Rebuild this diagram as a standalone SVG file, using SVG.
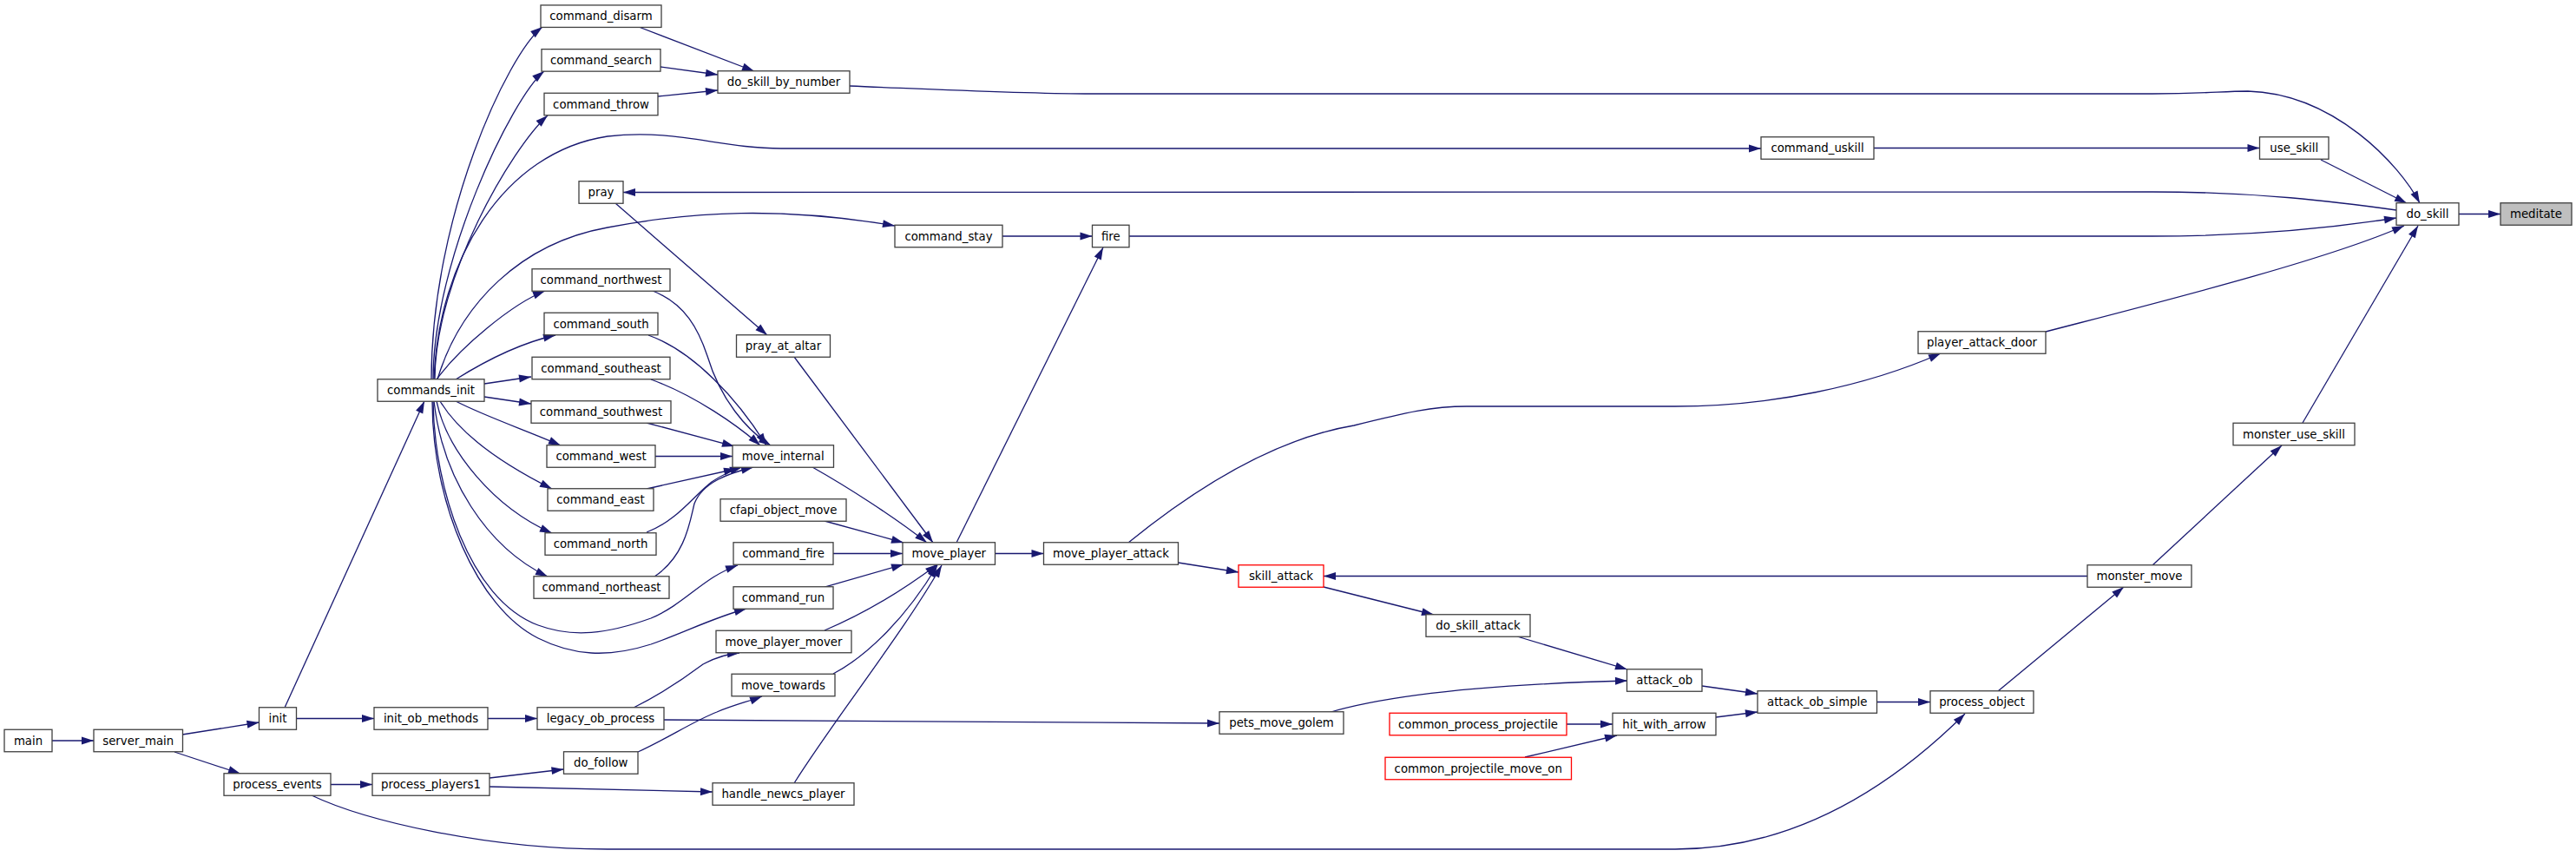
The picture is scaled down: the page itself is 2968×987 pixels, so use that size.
<svg xmlns="http://www.w3.org/2000/svg" width="2968" height="987" viewBox="0 0 2968 987">
<style>
.n rect{fill:#fff;stroke:#404040;stroke-width:1.3}
.n.r rect{stroke:#ff0000}
.n.g rect{fill:#bfbfbf}
.n text{font-family:"DejaVu Sans","Liberation Sans",sans-serif;font-size:13.3px;text-anchor:middle;fill:#000}
.e path{fill:none;stroke:#191970;stroke-width:1.3;marker-end:url(#ah)}
</style>
<defs>
<marker id="ah" markerUnits="userSpaceOnUse" markerWidth="15" markerHeight="10" refX="14" refY="5" orient="auto" viewBox="0 0 14 10">
<path d="M0,0.5 L14,5 L0,9.5 Z" fill="#191970"/>
</marker>
</defs>
<rect width="2968" height="987" fill="#fff"/>
<g id="edges" class="e">
<path d="M2833,246.5 L2881,246.5"/>
<path d="M979,99 C1100,104 1180,108 1250,108 L2480,108 C2540,108 2560,105 2590,105 C2690,108 2765,190 2788,234"/>
<path d="M2159,170.5 L2603.5,170.5"/>
<path d="M500,437 C505,300 580,175 700,157 C780,148 830,171 900,171 L2029,171"/>
<path d="M2674,184 L2773,234"/>
<path d="M2761,242 C2690,232 2600,221 2480,221 L718,221.5"/>
<path d="M1301,272 L2480,272 C2600,272 2690,262 2761,251"/>
<path d="M1155,272 L1258.5,272"/>
<path d="M504,437 C530,350 600,280 700,262 C800,243 900,238 1031,260"/>
<path d="M1102,625 L1271,285"/>
<path d="M2357,382 C2480,350 2680,300 2770,260"/>
<path d="M1300,625 C1380,560 1470,505 1560,490 C1620,475 1650,468 1690,468 L1930,468 C2040,468 2150,445 2236,407"/>
<path d="M2653,487 L2786,260"/>
<path d="M2480,651 L2629,513"/>
<path d="M2405,663.5 L1525,663.5"/>
<path d="M2302,796 L2447,676"/>
<path d="M1146.5,637.5 L1202.5,637.5"/>
<path d="M1357.5,648 L1427,659"/>
<path d="M1525,676 L1652,708"/>
<path d="M1748,733 L1875,771"/>
<path d="M1961,790 L2025,799"/>
<path d="M1977,826 L2025,820"/>
<path d="M2162.5,808.5 L2224,808.5"/>
<path d="M1805,834 L1858,834"/>
<path d="M1757,872 L1863,847"/>
<path d="M1530,821 C1600,800 1720,788 1875,784"/>
<path d="M765,829 L1405,833"/>
<path d="M359,916 C420,945 560,978 700,978 L1930,978 C2050,978 2160,925 2264,822"/>
<path d="M60,853 L108,853"/>
<path d="M210,846 L298.5,832"/>
<path d="M201,866 L277,891"/>
<path d="M341.5,827.5 L431,827.5"/>
<path d="M562,827.5 L619,827.5"/>
<path d="M328,815 L489,462"/>
<path d="M381,903.5 L429,903.5"/>
<path d="M564,896 L649.5,886"/>
<path d="M564,906 L821,912"/>
<path d="M735,866 C770,850 800,830 826,820 C845,812 862,808 878,802"/>
<path d="M730,815 C760,800 790,780 810,765 C825,757 838,753 852,752"/>
<path d="M497,437 C497,250 585,62 625,31"/>
<path d="M499,437 C499,300 590,112 627,82"/>
<path d="M501,437 C501,320 590,170 631,133"/>
<path d="M503,437 C530,400 590,350 628,335"/>
<path d="M525,437 C560,415 600,395 640,386"/>
<path d="M558,442 L612,434"/>
<path d="M558,457 L612,465"/>
<path d="M525,462 C560,480 610,497 646,513"/>
<path d="M507,462 C530,500 580,535 636,563"/>
<path d="M503,462 C515,520 570,585 636,614"/>
<path d="M500,462 C510,550 560,630 631,664"/>
<path d="M499,462 C500,560 540,690 620,720 C660,735 700,730 750,712 C790,695 810,665 850,651"/>
<path d="M498,462 C498,580 550,700 620,735 C660,755 700,758 750,742 C790,728 820,712 860,701"/>
<path d="M736,31 L869,82"/>
<path d="M761,77 L827,86"/>
<path d="M758,111 L827,104"/>
<path d="M709,234 L884,386"/>
<path d="M915,411 L1075,625"/>
<path d="M752,335 C790,350 805,380 815,410 C830,460 860,495 888,513"/>
<path d="M747,386 C800,405 850,460 883,513"/>
<path d="M750,437 C800,455 850,490 876,513"/>
<path d="M745,487 L846,514"/>
<path d="M755,525.5 L844,525.5"/>
<path d="M745,563 L848,540"/>
<path d="M745,613 C780,600 800,570 820,555 C835,545 845,541 855,538"/>
<path d="M754,664 C790,640 795,600 800,580 C810,555 840,545 868,538"/>
<path d="M936,538 C975,560 1030,595 1068,625"/>
<path d="M950,600 L1041,625"/>
<path d="M960,637.5 L1040,637.5"/>
<path d="M950,676 L1041,650"/>
<path d="M950,726 C1000,705 1040,680 1080,650"/>
<path d="M960,776 C1000,755 1045,710 1080,651"/>
<path d="M915,902 C960,830 1040,730 1085,651"/>
</g>
<g id="meditate" class="n g"><rect x="2881" y="233.75" width="82" height="25.5"/><text x="2922" y="251">meditate</text></g>
<g id="do_skill" class="n"><rect x="2761" y="233.75" width="72" height="25.5"/><text x="2797" y="251">do_skill</text></g>
<g id="do_skill_by_number" class="n"><rect x="827" y="81.75" width="152" height="25.5"/><text x="903" y="99">do_skill_by_number</text></g>
<g id="command_disarm" class="n"><rect x="623" y="5.95" width="139" height="25.5"/><text x="692.5" y="23.2">command_disarm</text></g>
<g id="command_search" class="n"><rect x="624" y="56.65" width="137" height="25.5"/><text x="692.5" y="73.9">command_search</text></g>
<g id="command_throw" class="n"><rect x="627" y="107.25" width="131" height="25.5"/><text x="692.5" y="124.5">command_throw</text></g>
<g id="commands_init" class="n"><rect x="435" y="436.75" width="123" height="25.5"/><text x="496.5" y="454">commands_init</text></g>
<g id="command_uskill" class="n"><rect x="2029" y="157.75" width="130" height="25.5"/><text x="2094" y="175">command_uskill</text></g>
<g id="use_skill" class="n"><rect x="2603.5" y="157.75" width="79.5" height="25.5"/><text x="2643.25" y="175">use_skill</text></g>
<g id="pray" class="n"><rect x="667" y="208.75" width="51" height="25.5"/><text x="692.5" y="226">pray</text></g>
<g id="pray_at_altar" class="n"><rect x="848.5" y="385.75" width="108" height="25.5"/><text x="902.5" y="403">pray_at_altar</text></g>
<g id="command_stay" class="n"><rect x="1031" y="259.25" width="124" height="25.5"/><text x="1093" y="276.5">command_stay</text></g>
<g id="fire" class="n"><rect x="1258.5" y="259.25" width="42.5" height="25.5"/><text x="1279.75" y="276.5">fire</text></g>
<g id="command_northwest" class="n"><rect x="613" y="309.75" width="159" height="25.5"/><text x="692.5" y="327">command_northwest</text></g>
<g id="command_south" class="n"><rect x="627" y="360.25" width="131" height="25.5"/><text x="692.5" y="377.5">command_south</text></g>
<g id="command_southeast" class="n"><rect x="613" y="411.25" width="159" height="25.5"/><text x="692.5" y="428.5">command_southeast</text></g>
<g id="command_southwest" class="n"><rect x="612" y="461.75" width="161" height="25.5"/><text x="692.5" y="479">command_southwest</text></g>
<g id="command_west" class="n"><rect x="630" y="512.75" width="125" height="25.5"/><text x="692.5" y="530">command_west</text></g>
<g id="command_east" class="n"><rect x="631" y="562.75" width="122" height="25.5"/><text x="692" y="580">command_east</text></g>
<g id="command_north" class="n"><rect x="628" y="613.75" width="128" height="25.5"/><text x="692" y="631">command_north</text></g>
<g id="command_northeast" class="n"><rect x="615" y="663.75" width="156" height="25.5"/><text x="693" y="681">command_northeast</text></g>
<g id="move_internal" class="n"><rect x="844" y="512.75" width="116.5" height="25.5"/><text x="902.25" y="530">move_internal</text></g>
<g id="cfapi_object_move" class="n"><rect x="830" y="574.75" width="145" height="25.5"/><text x="902.5" y="592">cfapi_object_move</text></g>
<g id="command_fire" class="n"><rect x="845" y="624.75" width="115" height="25.5"/><text x="902.5" y="642">command_fire</text></g>
<g id="command_run" class="n"><rect x="845" y="675.75" width="115" height="25.5"/><text x="902.5" y="693">command_run</text></g>
<g id="move_player_mover" class="n"><rect x="825" y="726.25" width="156" height="25.5"/><text x="903" y="743.5">move_player_mover</text></g>
<g id="move_towards" class="n"><rect x="843" y="776.25" width="119" height="25.5"/><text x="902.5" y="793.5">move_towards</text></g>
<g id="handle_newcs_player" class="n"><rect x="821" y="901.75" width="163" height="25.5"/><text x="902.5" y="919">handle_newcs_player</text></g>
<g id="move_player" class="n"><rect x="1040" y="624.75" width="106.5" height="25.5"/><text x="1093.25" y="642">move_player</text></g>
<g id="move_player_attack" class="n"><rect x="1202.5" y="624.75" width="155" height="25.5"/><text x="1280" y="642">move_player_attack</text></g>
<g id="player_attack_door" class="n"><rect x="2210" y="381.75" width="147" height="25.5"/><text x="2283.5" y="399">player_attack_door</text></g>
<g id="skill_attack" class="n r"><rect x="1427" y="650.75" width="98" height="25.5"/><text x="1476" y="668">skill_attack</text></g>
<g id="monster_move" class="n"><rect x="2405" y="650.75" width="120" height="25.5"/><text x="2465" y="668">monster_move</text></g>
<g id="monster_use_skill" class="n"><rect x="2573" y="487.25" width="140" height="25.5"/><text x="2643" y="504.5">monster_use_skill</text></g>
<g id="do_skill_attack" class="n"><rect x="1643" y="707.75" width="120" height="25.5"/><text x="1703" y="725">do_skill_attack</text></g>
<g id="attack_ob" class="n"><rect x="1874.5" y="770.75" width="86.5" height="25.5"/><text x="1917.75" y="788">attack_ob</text></g>
<g id="attack_ob_simple" class="n"><rect x="2025" y="795.75" width="137.5" height="25.5"/><text x="2093.75" y="813">attack_ob_simple</text></g>
<g id="process_object" class="n"><rect x="2224" y="795.75" width="119" height="25.5"/><text x="2283.5" y="813">process_object</text></g>
<g id="hit_with_arrow" class="n"><rect x="1858" y="821.25" width="119" height="25.5"/><text x="1917.5" y="838.5">hit_with_arrow</text></g>
<g id="common_process_projectile" class="n r"><rect x="1601" y="821.25" width="204" height="25.5"/><text x="1703" y="838.5">common_process_projectile</text></g>
<g id="common_projectile_move_on" class="n r"><rect x="1596" y="872.25" width="214.5" height="25.5"/><text x="1703.25" y="889.5">common_projectile_move_on</text></g>
<g id="pets_move_golem" class="n"><rect x="1405" y="819.75" width="143" height="25.5"/><text x="1476.5" y="837">pets_move_golem</text></g>
<g id="legacy_ob_process" class="n"><rect x="619" y="814.75" width="146" height="25.5"/><text x="692" y="832">legacy_ob_process</text></g>
<g id="init" class="n"><rect x="298.5" y="814.75" width="43" height="25.5"/><text x="320" y="832">init</text></g>
<g id="init_ob_methods" class="n"><rect x="431" y="814.75" width="131" height="25.5"/><text x="496.5" y="832">init_ob_methods</text></g>
<g id="main" class="n"><rect x="5" y="840.25" width="55" height="25.5"/><text x="32.5" y="857.5">main</text></g>
<g id="server_main" class="n"><rect x="108" y="840.25" width="102.5" height="25.5"/><text x="159.25" y="857.5">server_main</text></g>
<g id="process_events" class="n"><rect x="258" y="890.75" width="123" height="25.5"/><text x="319.5" y="908">process_events</text></g>
<g id="process_players1" class="n"><rect x="429" y="890.75" width="135" height="25.5"/><text x="496.5" y="908">process_players1</text></g>
<g id="do_follow" class="n"><rect x="649.5" y="865.75" width="85.5" height="25.5"/><text x="692.25" y="883">do_follow</text></g>
</svg>
